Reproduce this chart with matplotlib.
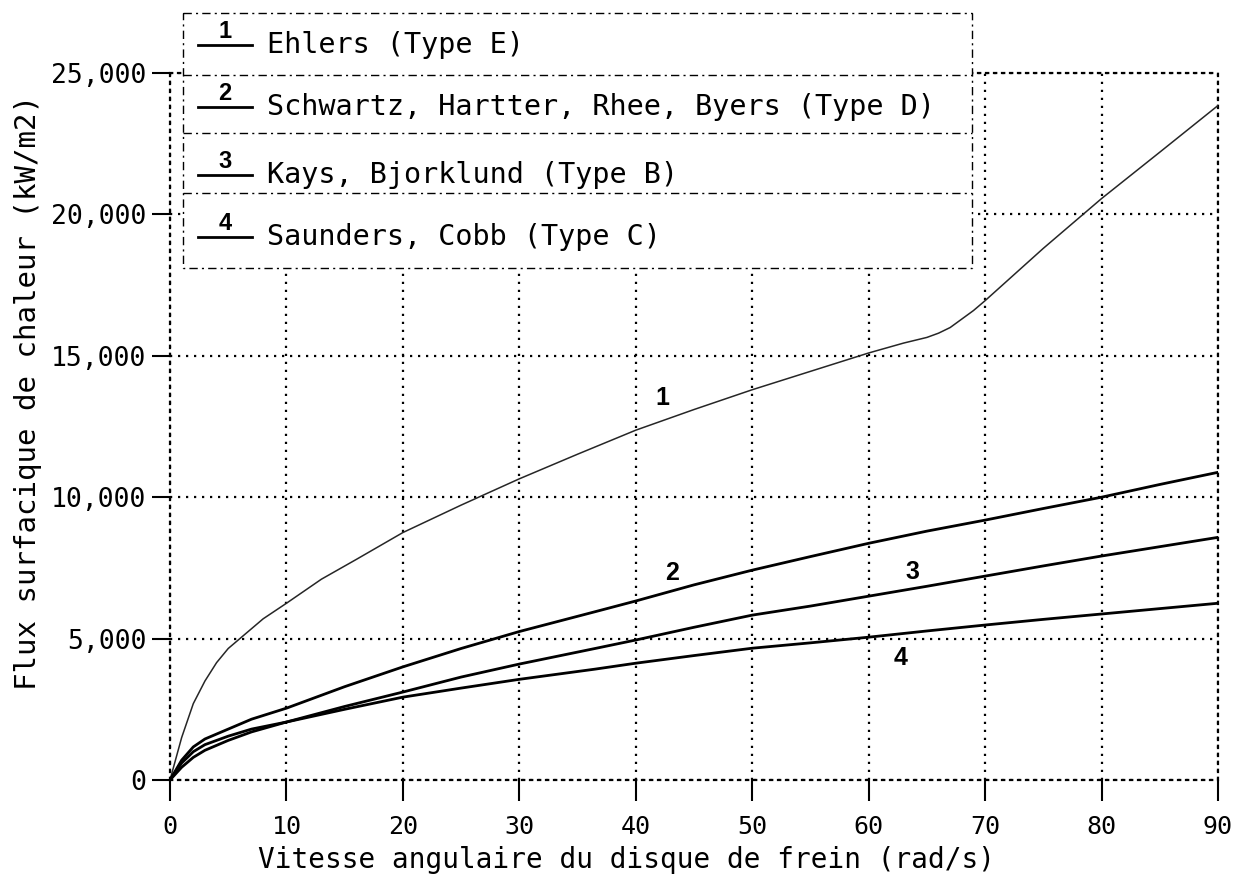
import matplotlib
matplotlib.use("Agg")
import matplotlib.pyplot as plt
from matplotlib.patches import Rectangle
from matplotlib.lines import Line2D

# ---------------- data ----------------
x_ehlers = [0, 1, 2, 3, 4, 5, 6, 8, 10, 13, 16, 20, 25, 30, 35, 40, 45, 50, 55,
            60, 63, 65, 66, 67, 68, 69, 70, 75, 80, 85, 90]
y_ehlers = [0, 1500, 2700, 3500, 4150, 4650, 5000, 5700, 6250, 7100, 7800, 8750,
            9720, 10650, 11520, 12370, 13100, 13800, 14450, 15100, 15450, 15650,
            15800, 16000, 16300, 16600, 16950, 18800, 20560, 22200, 23850]

x_common = [0, 1, 2, 3, 5, 7, 10, 15, 20, 25, 30, 36.5, 40, 45, 50, 55, 60, 65,
            70, 75, 80, 85, 90]
y_schwartz = [0, 700, 1170, 1450, 1800, 2150, 2540, 3300, 4000, 4650, 5250, 5950,
              6330, 6900, 7420, 7900, 8370, 8800, 9190, 9600, 10000, 10450, 10880]
y_kays = [0, 450, 800, 1050, 1400, 1700, 2050, 2600, 3110, 3640, 4100, 4650,
          4950, 5400, 5830, 6150, 6500, 6850, 7210, 7570, 7920, 8250, 8580]
y_saunders = [0, 600, 1000, 1250, 1550, 1800, 2050, 2500, 2930, 3250, 3560, 3920,
              4130, 4400, 4660, 4850, 5050, 5270, 5480, 5680, 5870, 6060, 6250]

curve_ids = ["1", "2", "3", "4"]
legend_names = ["Ehlers (Type E)",
                "Schwartz, Hartter, Rhee, Byers (Type D)",
                "Kays, Bjorklund (Type B)",
                "Saunders, Cobb (Type C)"]
label_x = [42.3, 43.1, 63.8, 62.7]
label_y = [13500, 7310, 7350, 4310]

xticks = [0, 10, 20, 30, 40, 50, 60, 70, 80, 90]
yticks = [0, 5000, 10000, 15000, 20000, 25000]
xlabel = "Vitesse angulaire du disque de frein (rad/s)"
ylabel = "Flux surfacique de chaleur (kW/m2)"

# ---------------- figure ----------------
W, H = 1239, 882
MONO = "DejaVu Sans Mono"
fig = plt.figure(figsize=(W / 100, H / 100), dpi=100)
fig.patch.set_facecolor("white")
ax = fig.add_axes([170 / W, 1 - 780 / H, 1048 / W, 707 / H])

ax.plot(x_ehlers, y_ehlers, color="0.15", lw=1.1, zorder=3)
for ys in (y_schwartz, y_kays, y_saunders):
    ax.plot(x_common, ys, color="black", lw=2.0, zorder=3)

ax.set_xlim(0, 90)
ax.set_ylim(0, 25000)
ax.set_xticks(xticks)
ax.set_yticks(yticks)
ax.set_xticklabels([str(v) for v in xticks], family=MONO, fontsize=18)
ax.set_yticklabels([f"{v:,}" for v in yticks], family=MONO, fontsize=19)

dot = (0, (1, 2.6))
ax.grid(True, color="black", linestyle=dot, linewidth=1.6)
for s in ax.spines.values():
    s.set_linestyle(dot)
    s.set_linewidth(1.6)
ax.tick_params(axis="x", direction="out", length=15, width=1.5, pad=10)
ax.tick_params(axis="y", direction="out", length=13, width=1.5, pad=4)

for cid, lx, ly in zip(curve_ids, label_x, label_y):
    ax.text(lx, ly, cid, family="Liberation Sans", fontweight="bold",
            fontsize=18, ha="center", va="center", zorder=4)

ax.set_xlabel(xlabel, family=MONO, fontsize=20)
ax.xaxis.set_label_coords((626 - 170) / 1048, (780 - 846) / 707)
ax.set_ylabel(ylabel, family=MONO, fontsize=21)
ax.yaxis.label.set_va("center")
ax.yaxis.set_label_coords((28 - 170) / 1048, (780 - 392) / 707)

# ---------------- legend (pixel layout overlay) ----------------
lax = fig.add_axes([0, 0, 1, 1], zorder=5)
lax.set_xlim(0, W)
lax.set_ylim(H, 0)
lax.axis("off")
lax.patch.set_alpha(0)

dashdot = (0, (6, 3, 1.5, 3))
lx0, lx1, ly0, ly1 = 183, 972, 13, 268
lax.add_patch(Rectangle((lx0, ly0), lx1 - lx0, ly1 - ly0, facecolor="white",
                        edgecolor="black", linewidth=1.0, linestyle=dashdot))
for sy in (75, 133, 193):
    lax.add_line(Line2D([lx0, lx1], [sy, sy], color="black", lw=1.0,
                        linestyle=dashdot))

row_y = [45, 107, 175, 237]
for cid, name, ry in zip(curve_ids, legend_names, row_y):
    lax.add_line(Line2D([198, 252], [ry, ry], color="black", lw=2.0))
    lax.text(225, ry - 13, cid, family="Liberation Sans", fontweight="bold",
             fontsize=17, ha="center", va="center")
    lax.text(267, ry, name, family=MONO, fontsize=20.5, ha="left", va="center")

fig.savefig("out.png", dpi=100)
